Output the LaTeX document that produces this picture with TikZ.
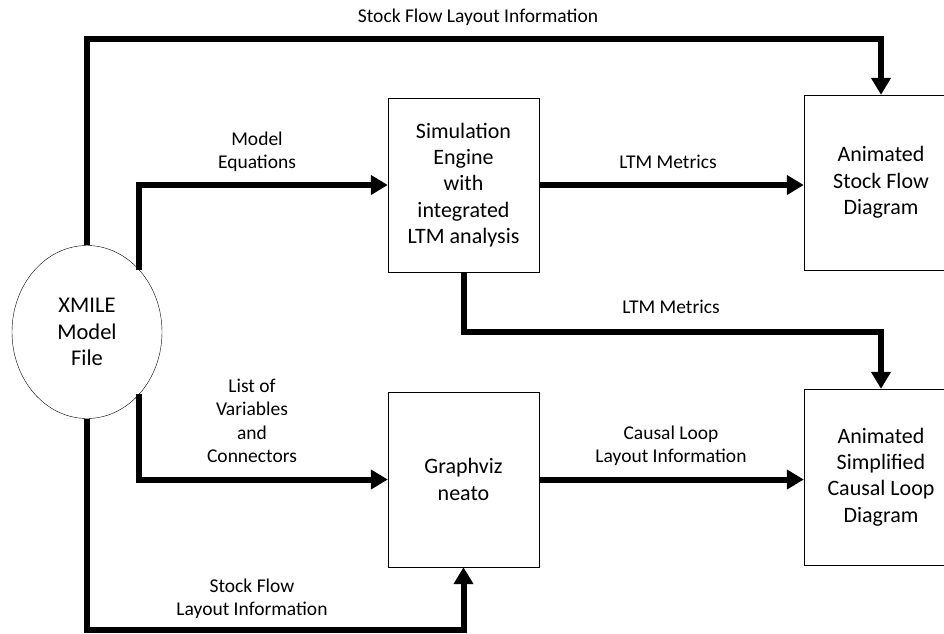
\documentclass[tikz,border=0pt]{standalone}
\usepackage{fontspec}
\setmainfont{Carlito}
\usetikzlibrary{shapes.geometric,arrows.meta}
\tikzstyle{file} = [draw=black, thin, ellipse, minimum width=150, minimum height=173, align=center, font=\fontsize{22.5}{26.5}\selectfont]
\tikzstyle{block} = [draw=black, thin, rectangle, inner sep=0, align=center, font=\fontsize{22}{26.3}\selectfont]
\tikzstyle{flow} = [line width=6, -{Triangle[length=17,width=19]}]
\tikzstyle{lbl} = [align=center, font=\fontsize{19.5}{23.5}\selectfont]

\begin{document}
\begin{tikzpicture}[x=1pt,y=-1pt]
    \clip (0,0) rectangle (944,633);
    \node[file](xmile) at (87,332){XMILE\\Model\\File};
    \node[block,minimum width=151,minimum height=174](sim) at (463.5,185){Simulation\\Engine\\with\\integrated\\LTM analysis};
    \node[block,minimum width=154,minimum height=175](sfd) at (881,182.5){Animated\\Stock Flow\\Diagram};
    \node[block,minimum width=151,minimum height=175](gv) at (463.5,479.5){Graphviz\\neato};
    \node[block,minimum width=154,minimum height=176](cld) at (881,477){Animated\\Simplified\\Causal Loop\\Diagram};
    \coordinate (toprow) at (0,39);
    \coordinate (ltmrow) at (0,332);
    \coordinate (botrow) at (0,630);
    \draw[flow](xmile.north) |- (toprow -| sfd.north) -- (sfd.north);
    \draw[flow](xmile.50) |- (sim.west);
    \draw[flow](sim.east) -- (sim.east -| sfd.west);
    \draw[flow](sim.south) |- (ltmrow -| cld.north) -- (cld.north);
    \draw[flow](xmile.-50) |- (gv.west);
    \draw[flow](gv.east) -- (gv.east -| cld.west);
    \draw[flow](xmile.south) |- (botrow -| gv.south) -- (gv.south);
    \node[lbl](l1) at (478,17){Stock Flow Layout Information};
    \node[lbl](l2) at (257,152){Model\\Equations};
    \node[lbl](l3) at (668,162){LTM Metrics};
    \node[lbl](l4) at (671,307){LTM Metrics};
    \node[lbl](l5) at (252,421){List of\\Variables\\and\\Connectors};
    \node[lbl](l6) at (671,446){Causal Loop\\Layout Information};
    \node[lbl](l7) at (252,599){Stock Flow\\Layout Information};
  \end{tikzpicture}
\end{document}
